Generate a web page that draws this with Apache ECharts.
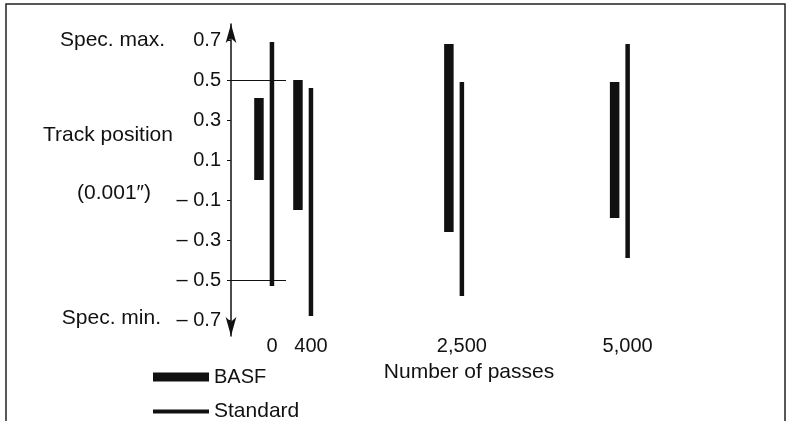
<!DOCTYPE html>
<html>
<head>
<meta charset="utf-8">
<title>Track position vs number of passes</title>
<script src="https://cdn.jsdelivr.net/npm/echarts@6/dist/echarts.min.js"></script>
<style>
    html, body {margin: 0; padding: 0; background: #fff;}
    #chartWrap {width: 788px; height: 421px;}
</style>
</head>
<body>
<div id="chartWrap"></div>
<script>
// data (track position, 0.001")
const passes = ['0', '400', '2,500', '5,000'];
const basfLow = [0.00, -0.15, -0.26, -0.19];
const basfHigh = [0.41, 0.50, 0.68, 0.49];
const stdLow = [-0.53, -0.68, -0.58, -0.39];
const stdHigh = [0.69, 0.46, 0.49, 0.68];
const yTicks = [-0.7, -0.5, -0.3, -0.1, 0.1, 0.3, 0.5, 0.7];
const specLimits = [0.5, -0.5];

// layout: where each group sits along the (unscaled) x axis
const groupSlot = [0, 1, 4.87, 9.12];

const ink = '#111';
const font = 'Liberation Sans, Arial, Helvetica, sans-serif';

const myChart = echarts.init(document.getElementById('chartWrap'));

function rangeBar(offset, width) {
    return function (params, api) {
        const top = api.coord([api.value(0), api.value(2)]);
        const bot = api.coord([api.value(0), api.value(1)]);
        return {
            type: 'rect',
            shape: {x: top[0] + offset - width / 2, y: top[1], width: width, height: bot[1] - top[1]},
            style: {fill: api.visual('color')}
        };
    };
}

function fmtTick(v) {
    return v < 0 ? '\u2013 ' + Math.abs(v).toFixed(1) : v.toFixed(1);
}

const basfData = groupSlot.map(function (s, i) { return [s, basfLow[i], basfHigh[i]]; });
const stdData = groupSlot.map(function (s, i) { return [s, stdLow[i], stdHigh[i]]; });

const specLines = specLimits.map(function (v) {
    return [{coord: [-1.05, v]}, {coord: [0.36, v]}];
});

myChart.setOption({
    animation: false,
    backgroundColor: '#fff',
    textStyle: {fontFamily: font, color: ink},
    grid: {left: 231, top: 24, width: 546, height: 312},
    xAxis: {
        type: 'value',
        min: -1.05,
        max: 12.95,
        axisLine: {show: false, onZero: false},
        axisTick: {show: false},
        splitLine: {show: false},
        axisLabel: {
            customValues: groupSlot,
            margin: 0,
            fontSize: 20,
            color: ink,
            fontFamily: font,
            formatter: function (v) {
                const i = groupSlot.indexOf(v);
                return i >= 0 ? passes[i] : '';
            }
        }
    },
    yAxis: {
        type: 'value',
        min: -0.78,
        max: 0.78,
        splitLine: {show: false},
        axisLine: {
            show: true,
            onZero: false,
            symbol: ['arrow', 'arrow'],
            symbolSize: [8, 19],
            lineStyle: {color: ink, width: 1.5}
        },
        axisTick: {
            show: true,
            customValues: yTicks,
            length: 4,
            lineStyle: {color: ink, width: 1}
        },
        axisLabel: {
            customValues: yTicks,
            margin: 10,
            fontSize: 20,
            color: ink,
            fontFamily: font,
            formatter: fmtTick
        }
    },
    legend: [
        {
            data: [{name: 'BASF', icon: 'rect'}],
            left: 148, top: 362,
            itemWidth: 56, itemHeight: 9,
            selectedMode: false,
            textStyle: {fontSize: 20, color: ink, fontFamily: font}
        },
        {
            data: [{name: 'Standard', icon: 'rect'}],
            left: 148, top: 396,
            itemWidth: 56, itemHeight: 4,
            selectedMode: false,
            textStyle: {fontSize: 21, color: ink, fontFamily: font}
        }
    ],
    graphic: [
        {type: 'rect', silent: true, z: -1, shape: {x: 6, y: 4, width: 779, height: 440},
            style: {fill: 'none', stroke: '#222', lineWidth: 1.5}},
        {type: 'text', x: 165, y: 40, style: {text: 'Spec. max.', align: 'right', verticalAlign: 'middle', fontSize: 21, fontFamily: font, fill: ink}},
        {type: 'text', x: 161, y: 318, style: {text: 'Spec. min.', align: 'right', verticalAlign: 'middle', fontSize: 21, fontFamily: font, fill: ink}},
        {type: 'text', x: 108, y: 135, style: {text: 'Track position', align: 'center', verticalAlign: 'middle', fontSize: 21, fontFamily: font, fill: ink}},
        {type: 'text', x: 114, y: 193, style: {text: '(0.001\u2033)', align: 'center', verticalAlign: 'middle', fontSize: 21, fontFamily: font, fill: ink}},
        {type: 'text', x: 469, y: 372, style: {text: 'Number of passes', align: 'center', verticalAlign: 'middle', fontSize: 21, fontFamily: font, fill: ink}}
    ],
    series: [
        {
            name: 'BASF',
            type: 'custom',
            itemStyle: {color: ink},
            encode: {x: 0, y: [1, 2]},
            renderItem: rangeBar(-13, 9.5),
            data: basfData
        },
        {
            name: 'Standard',
            type: 'custom',
            itemStyle: {color: ink},
            encode: {x: 0, y: [1, 2]},
            renderItem: rangeBar(0, 4.5),
            data: stdData,
            markLine: {
                silent: true,
                symbol: 'none',
                label: {show: false},
                lineStyle: {color: ink, width: 1, type: 'solid'},
                data: specLines
            }
        }
    ]
});
</script>
</body>
</html>
